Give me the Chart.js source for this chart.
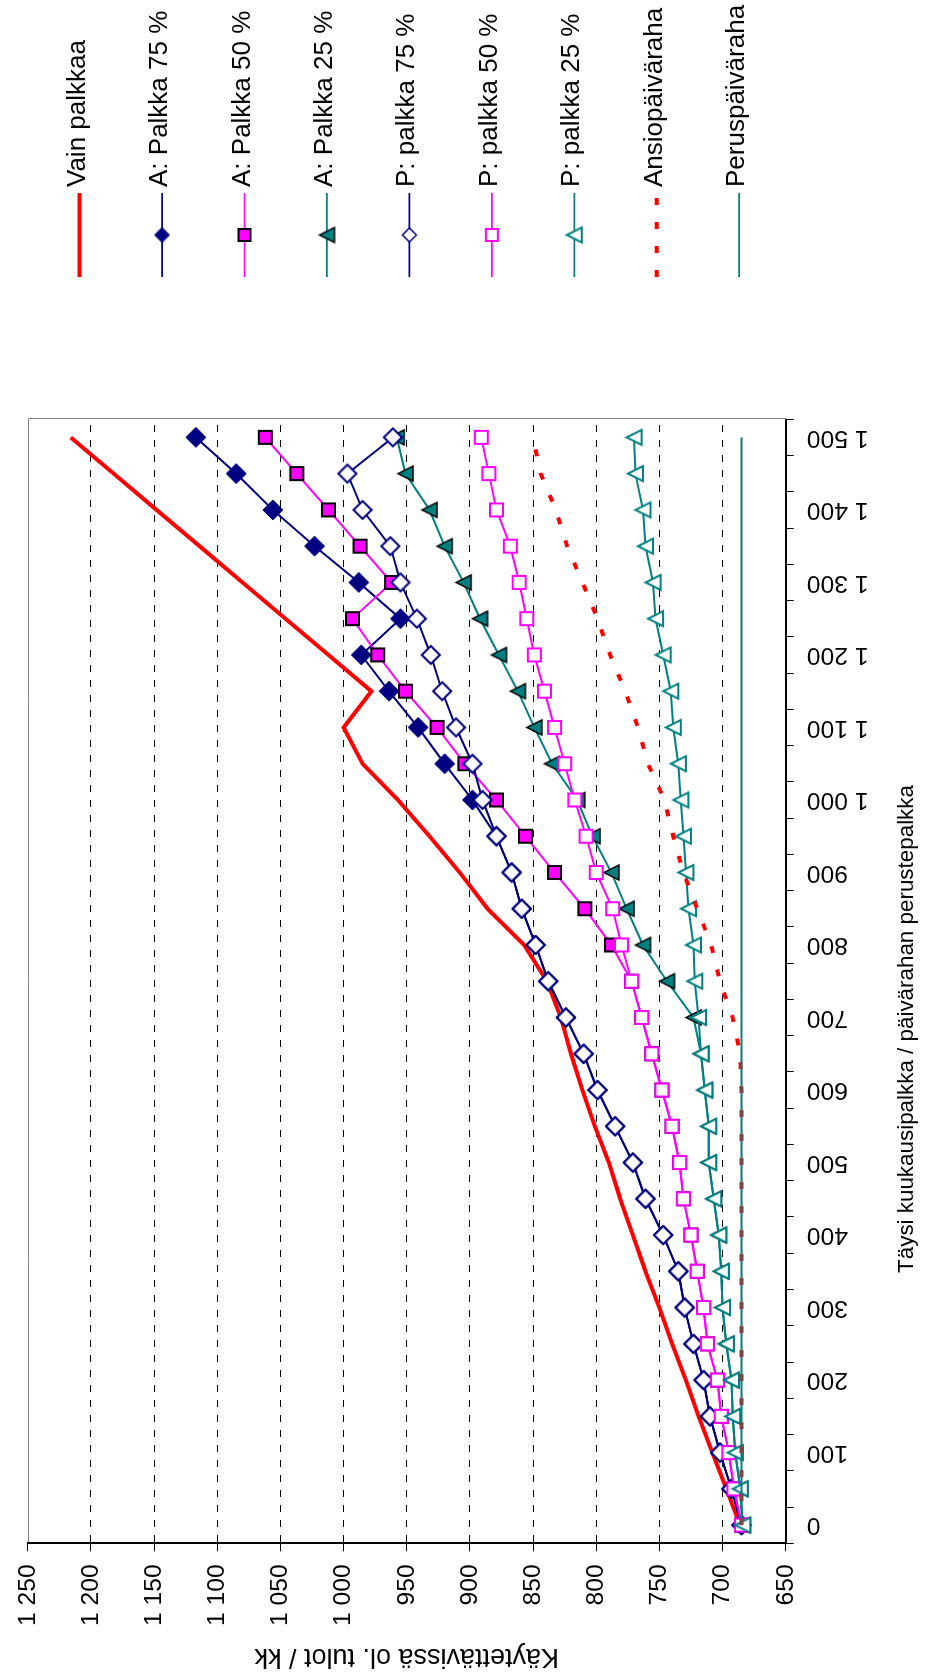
<!DOCTYPE html>
<html>
<head>
<meta charset="utf-8">
<script src="https://cdn.jsdelivr.net/npm/chart.js@4.4.1/dist/chart.umd.min.js"></script>
<style>
html,body{margin:0;padding:0;background:#fff;overflow:hidden;width:925px;height:1679px;}
#wrap{position:absolute;left:0;top:0;width:1679px;height:925px;transform-origin:0 0;transform:translate(0px,1679px) rotate(-90deg);}
canvas{display:block;}
</style>
</head>
<body>
<div id="wrap"><canvas id="c" width="1679" height="925"></canvas></div>
<script>
// ---------- DATA ----------
const categories = [0, 50, 100, 150, 200, 250, 300, 350, 400, 450, 500, 550, 600, 650, 700, 750,
  800, 850, 900, 950, 1000, 1050, 1100, 1150, 1200, 1250, 1300, 1350, 1400, 1450, 1500];
const xTickLabels = ['0', '', '100', '', '200', '', '300', '', '400', '', '500', '', '600', '', '700', '',
  '800', '', '900', '', '1 000', '', '1 100', '', '1 200', '', '1 300', '', '1 400', '', '1 500'];
const yTickLabels = ['650', '700', '750', '800', '850', '900', '950', '1 000', '1 050', '1 100', '1 150', '1 200', '1 250'];

const vainPalkkaa = [686, 697, 708, 719, 729, 740, 750, 761, 771, 781, 790, 801, 811, 820, 828, 839,
  857, 886, 908, 932, 957, 985, 1000, 978, 1012, 1046, 1080, 1114, 1148, 1182, 1216];
const aPalkka75 = [685, 693, 702, 710, 715, 723, 730, 735, 747, 761, 771, 785, 799, 810, 824, 838,
  848, 859, 867, 879, 898, 920, 941, 964, 986, 955, 988, 1023, 1056, 1085, 1117];
const aPalkka50 = [685, 691, 695, 701, 704, 712, 715, 720, 725, 731, 734, 740, 748, 756, 764, 772,
  788, 809, 833, 856, 879, 904, 926, 951, 973, 993, 962, 987, 1012, 1037, 1062];
const aPalkka25 = [684, 686, 690, 692, 693, 697, 700, 701, 703, 707, 711, 711, 714, 717, 723, 744,
  763, 776, 788, 803, 815, 835, 849, 862, 877, 892, 905, 920, 932, 951, 958];
const pPalkka75 = [685, 693, 702, 710, 715, 723, 730, 735, 747, 761, 771, 785, 799, 810, 824, 838,
  848, 859, 867, 879, 890, 898, 911, 922, 931, 942, 955, 963, 985, 997, 961];
const pPalkka50 = [685, 691, 695, 701, 704, 712, 715, 720, 725, 731, 734, 740, 748, 756, 764, 772,
  780, 787, 800, 808, 817, 825, 833, 841, 849, 855, 861, 868, 879, 885, 891];
const pPalkka25 = [684, 686, 690, 692, 693, 697, 700, 701, 703, 707, 711, 711, 714, 717, 719, 722,
  723, 727, 729, 731, 733, 735, 739, 741, 747, 753, 755, 761, 763, 769, 770];
const ansiopaivaraha = [685, 685, 685, 685, 685, 685, 685, 685, 685, 685, 685, 685, 685, 686, 692, 702,
  709, 720, 731, 739, 746, 759, 767, 777, 789, 799, 811, 823, 832, 844, 850];
const peruspaivaraha = [685, 685, 685, 685, 685, 685, 685, 685, 685, 685, 685, 685, 685, 685, 685, 685,
  685, 685, 685, 685, 685, 685, 685, 685, 685, 685, 685, 685, 685, 685, 685];

const seriesNames = ['Vain palkkaa', 'A: Palkka 75 %', 'A: Palkka 50 %', 'A: Palkka 25 %',
  'P: palkka 75 %', 'P: palkka 50 %', 'P: palkka 25 %', 'Ansiopäiväraha', 'Peruspäiväraha'];
const xTitle = 'Täysi kuukausipalkka / päivärahan perustepalkka';
const yTitle = 'Käytettävissä ol. tulot / kk';

// ---------- STYLE ----------
const NAVY = '#000080', MAG = '#FF00FF', TEAL = '#008080', RED = '#FF0000';
const FONT = '"Liberation Sans", Arial, sans-serif';
Chart.defaults.font.family = FONT;
Chart.defaults.color = '#000';

function marker(shape, w, h, fill, stroke, lw) {
  const pad = Math.ceil(lw) + 1;
  const c = document.createElement('canvas');
  c.width = Math.round(w + 2 * pad); c.height = Math.round(h + 2 * pad);
  const g = c.getContext('2d');
  const cx = c.width / 2, cy = c.height / 2;
  g.beginPath();
  if (shape === 'diamond') {
    g.moveTo(cx, cy - h / 2); g.lineTo(cx + w / 2, cy); g.lineTo(cx, cy + h / 2); g.lineTo(cx - w / 2, cy);
  } else if (shape === 'square') {
    g.rect(cx - w / 2, cy - h / 2, w, h);
  } else {
    g.moveTo(cx, cy - h / 2); g.lineTo(cx + w / 2, cy + h / 2); g.lineTo(cx - w / 2, cy + h / 2);
  }
  g.closePath();
  g.fillStyle = fill; g.fill();
  g.lineWidth = lw; g.strokeStyle = stroke; g.lineJoin = 'miter'; g.stroke();
  return c;
}

const plotMarkers = [
  null,
  marker('diamond', 20, 20, NAVY, NAVY, 1),
  marker('square', 13, 13, MAG, '#000', 2),
  marker('triangle', 15, 15, TEAL, '#000', 1.5),
  marker('diamond', 18, 18, '#fff', NAVY, 2),
  marker('square', 13, 13, '#fff', MAG, 2),
  marker('triangle', 15, 15, '#fff', TEAL, 2),
  null, null
];
const legendMarkers = [
  null,
  marker('diamond', 15, 15, NAVY, NAVY, 1),
  marker('square', 12, 12, MAG, '#000', 2),
  marker('triangle', 15, 15, TEAL, '#000', 1.5),
  marker('diamond', 14, 14, '#fff', NAVY, 1.5),
  marker('square', 12, 12, '#fff', MAG, 2),
  marker('triangle', 15, 15, '#fff', TEAL, 2),
  null, null
];
const seriesData = [vainPalkkaa, aPalkka75, aPalkka50, aPalkka25, pPalkka75, pPalkka50, pPalkka25, ansiopaivaraha, peruspaivaraha];
const seriesColors = [RED, NAVY, MAG, TEAL, NAVY, MAG, TEAL, RED, TEAL];
const seriesWidths = [4, 2, 2, 2, 2, 2, 2, 4, 2];
const legendWidths = [4, 1.7, 1.7, 1.7, 1.7, 1.7, 1.7, 4, 1.7];
const seriesDash = [[], [], [], [], [], [], [], [7, 17], []];

const datasets = seriesNames.map((name, k) => ({
  label: name,
  data: seriesData[k],
  borderColor: seriesColors[k],
  backgroundColor: seriesColors[k],
  borderWidth: seriesWidths[k],
  borderDash: seriesDash[k],
  borderCapStyle: 'butt',
  pointStyle: plotMarkers[k] || 'circle',
  pointRadius: plotMarkers[k] ? 5 : 0,
  pointHoverRadius: plotMarkers[k] ? 5 : 0,
  tension: 0,
  fill: false,
  order: seriesNames.length - 1 - k
}));

const framePlugin = {
  id: 'frame',
  beforeDatasetsDraw(chart) {
    const a = chart.chartArea, ctx = chart.ctx;
    ctx.save();
    ctx.strokeStyle = '#808080';
    ctx.lineWidth = 1;
    ctx.beginPath();
    ctx.moveTo(Math.round(a.left) + 0.5, Math.round(a.top) + 0.5);
    ctx.lineTo(Math.round(a.right) + 0.5, Math.round(a.top) + 0.5);
    ctx.lineTo(Math.round(a.right) + 0.5, Math.round(a.bottom) + 0.5);
    ctx.stroke();
    ctx.restore();
  }
};

// x-axis title: centred on the chart area left of the legend, as in the original
const xTitlePlugin = {
  id: 'xTitle',
  afterDraw(chart) {
    const ctx = chart.ctx;
    ctx.save();
    ctx.fillStyle = '#000';
    ctx.font = '22.4px ' + FONT;
    ctx.textAlign = 'center';
    ctx.textBaseline = 'alphabetic';
    ctx.fillText(xTitle, 650, 913.4);
    ctx.restore();
  }
};

const legendPlugin = {
  id: 'sideLegend',
  afterDraw(chart) {
    const ctx = chart.ctx;
    chart.data.datasets.forEach((d, k) => {
      const y = 79.6 + 82.45 * k;
      ctx.save();
      ctx.strokeStyle = seriesColors[k];
      ctx.lineWidth = legendWidths[k];
      ctx.lineCap = 'butt';
      ctx.setLineDash(seriesDash[k]);
      ctx.beginPath();
      ctx.moveTo(1402, y); ctx.lineTo(1486, y);
      ctx.stroke();
      ctx.setLineDash([]);
      const m = legendMarkers[k];
      if (m) ctx.drawImage(m, 1444 - m.width / 2, y - m.height / 2);
      ctx.fillStyle = '#000';
      ctx.font = '26px ' + FONT;
      ctx.textAlign = 'left';
      ctx.textBaseline = 'alphabetic';
      ctx.fillText(d.label, 1492, y + 5);
      ctx.restore();
    });
  }
};

new Chart(document.getElementById('c'), {
  type: 'line',
  data: { labels: categories.map(String), datasets },
  options: {
    responsive: false,
    animation: false,
    devicePixelRatio: 1,
    events: [],
    layout: { padding: { left: 0, top: 21.3, right: 419.3, bottom: 0 } },
    plugins: { legend: { display: false }, tooltip: { enabled: false } },
    scales: {
      x: {
        type: 'category',
        offset: true,
        grid: { offset: true, drawOnChartArea: false, drawTicks: true, tickLength: 8, color: '#000', tickColor: '#000', lineWidth: 1 },
        border: { display: true, color: '#000', width: 2 },
        ticks: { autoSkip: false, minRotation: 90, maxRotation: 90, padding: 13, color: '#000', font: { size: 24.7 },
          callback: (v, i) => xTickLabels[i] },
        title: { display: false },
        afterFit: (s) => { s.height = 139.3; }
      },
      y: {
        min: 650, max: 1250,
        ticks: { stepSize: 50, padding: 13, color: '#000', font: { size: 24.7 },
          callback: (v) => yTickLabels[Math.round((v - 650) / 50)] },
        grid: {
          color: (c) => (c.tick && (c.tick.value === 650 || c.tick.value === 1250)) ? 'rgba(0,0,0,0)' : '#000',
          lineWidth: 1, drawTicks: true, tickLength: 8, tickColor: '#000', tickBorderDash: []
        },
        border: { display: true, color: '#000', width: 2, dash: [7, 8] },
        title: { display: true, text: yTitle, color: '#000', font: { size: 27 }, padding: { top: 6, bottom: 0 } },
        afterFit: (s) => { s.width = 135.7; }
      }
    }
  },
  plugins: [framePlugin, xTitlePlugin, legendPlugin]
});
</script>
</body>
</html>
